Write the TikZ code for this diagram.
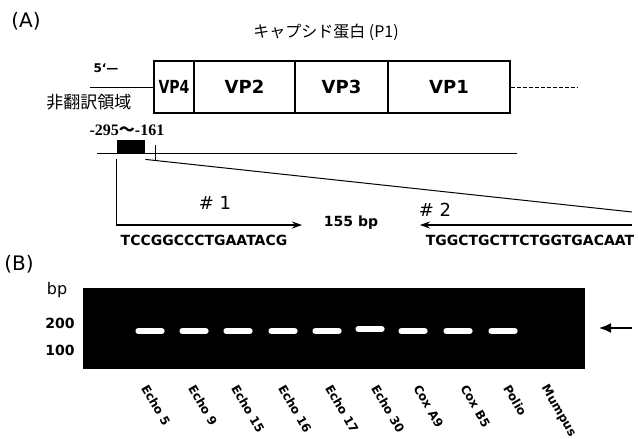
\documentclass[tikz,border=0pt]{standalone}
\usepackage{fontspec}
\setmainfont{DejaVu Sans}
\newfontfamily\jpfont{Noto Sans CJK JP}
\newfontfamily\numfont{Liberation Serif}
\newfontfamily\narrowfont[FakeStretch=0.78]{DejaVu Sans}
\usepackage{tikz}
\usetikzlibrary{arrows.meta,positioning,calc}
\definecolor{GelBlack}{RGB}{0,0,0}
\definecolor{BandWhite}{RGB}{255,255,255}
\tikzset{
  segbox/.style={rectangle,draw=black,line width=0.6pt,minimum height=26pt,
    inner sep=0pt,font=\fontsize{9}{10}\selectfont\bfseries},
  thinline/.style={line width=0.5pt,color=black},
  primer/.style={-{Stealth[length=5pt,width=3.5pt]},line width=0.6pt,color=black},
  plaintext/.style={inner sep=0pt,font=\fontsize{8}{9}\selectfont},
  paneltext/.style={inner sep=0pt,font=\fontsize{10}{11}\selectfont},
  seqtext/.style={inner sep=0pt,font=\fontsize{7}{8}\selectfont\bfseries},
  lanetext/.style={inner sep=0pt,anchor=north west,rotate=-60,
    font=\fontsize{6}{7}\selectfont\bfseries},
  band/.style={rectangle,rounded corners=1.2pt,fill=BandWhite,
    minimum width=14.5pt,minimum height=2.8pt,inner sep=0pt},
  gelarrow/.style={-{Latex[length=6pt,width=5pt]},line width=0.8pt,color=black}
}

\begin{document}
\begin{tikzpicture}[x=0.5pt,y=-0.5pt]
  \useasboundingbox (0,0) rectangle (639,439);
  \node[paneltext] (pa) at (26,21) {(A)};
  \node[inner sep=0pt,font=\jpfont\fontsize{8}{9}\selectfont] (capsid) at (326,32) {キャプシド蛋白 (P1)};
  \node[segbox,minimum width=20pt,font=\narrowfont\fontsize{9}{10}\selectfont\bfseries] (vp4) at (174,87) {VP4};
  \node[segbox,minimum width=50.5pt] (vp2) at (244.5,87) {VP2};
  \node[segbox,minimum width=46.5pt] (vp3) at (341.5,87) {VP3};
  \node[segbox,minimum width=61pt] (vp1) at (449,87) {VP1};
  \node[inner sep=0pt,font=\fontsize{6}{7}\selectfont\bfseries] (five) at (106,68) {5‘—};
  \node[inner sep=0pt,font=\jpfont\fontsize{8.5}{9}\selectfont] (utrlbl) at (89,102) {非翻訳領域};
  \coordinate (utr) at (90,87);
  \coordinate (orf) at (578,87);
  \draw[thinline] (utr) -- (vp4.west);
  \draw[thinline,dash pattern=on 2pt off 1pt] (vp1.east) -- (orf);

  \node[inner sep=0pt,font=\numfont\fontsize{8}{9}\selectfont\bfseries] (pos) at (127,130) {-295{\jpfont 〜}-161};
  \coordinate (g0) at (97,153);
  \coordinate (g1) at (517,153);
  \draw[thinline] (g0) -- (g1);
  \node[fill=black,inner sep=0pt,minimum width=14pt,minimum height=7pt] (prb) at (131,147) {};
  \coordinate (tk) at (155,145);
  \draw[thinline] (tk) -- ++(0,15);
  \coordinate (zend) at (632,212);
  \draw[thinline] ([yshift=-2.5pt]prb.south east) -- (zend);
  \coordinate (f1) at (302,225);
  \draw[primer] ([yshift=-2.5pt]prb.south west) |- (f1);
  \coordinate (r2a) at (632,225);
  \coordinate (r2b) at (420,225);
  \draw[primer] (r2a) -- (r2b);
  \node[inner sep=0pt,font=\fontsize{9}{10}\selectfont] (h1) at (215,203) {\# 1};
  \node[inner sep=0pt,font=\fontsize{9}{10}\selectfont] (h2) at (435,210) {\# 2};
  \node[seqtext] (len) at (351,223) {155 bp};
  \node[seqtext] (seq1) at (204,240) {TCCGGCCCTGAATACG};
  \node[seqtext] (seq2) at (530,240) {TGGCTGCTTCTGGTGACAAT};

  \node[paneltext] (pb) at (19,264) {(B)};
  \node[plaintext] (bp) at (57,290) {bp};
  \node[seqtext] (m200) at (60,323) {200};
  \node[seqtext] (m100) at (60,350) {100};
  \node[fill=GelBlack,inner sep=0pt,minimum width=251pt,minimum height=40.5pt] (gel) at (334,328.5) {};
  \foreach \bx/\by/\bid in {150/331/b1,194/331/b2,238/331/b3,283/331/b4,327/331/b5,
    370/329/b6,413/331/b7,458/331/b8,503/331/b9}
    \node[band] (\bid) at (\bx,\by) {};
  \coordinate (garr) at (632,328);
  \coordinate (gtip) at (599,328);
  \draw[gelarrow] (garr) -- (gtip);
  \foreach \lx/\lname/\lid in {149/Echo 5/l1,196/Echo 9/l2,239/Echo 15/l3,286/Echo 16/l4,
    333/Echo 17/l5,379/Echo 30/l6,421/Cox A9/l7,468/Cox B5/l8,511/Polio/l9,549/Mumpus/l10}
    \node[lanetext] (\lid) at (\lx,383) {\lname};
\end{tikzpicture}
\end{document}
